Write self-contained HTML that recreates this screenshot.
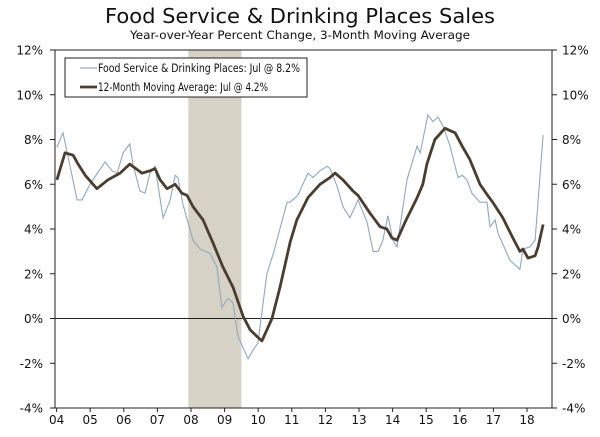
<!DOCTYPE html>
<html><head><meta charset="utf-8"><style>
body{margin:0;background:#fff;}
svg{display:block;font-family:"DejaVu Sans","Liberation Sans",sans-serif;}
</style></head><body>
<svg id="chart" width="600" height="437" viewBox="0 0 600 437">
<text x="105" y="23" textLength="390" lengthAdjust="spacingAndGlyphs" font-size="20" fill="#111">Food Service &amp; Drinking Places Sales</text>
<text x="130" y="39" textLength="340" lengthAdjust="spacingAndGlyphs" font-size="11.5" fill="#111">Year-over-Year Percent Change, 3-Month Moving Average</text>
<g id="plot"></g>
</svg>
<script>
const yTicks=[-4,-2,0,2,4,6,8,10,12];
const yearLabels=["04","05","06","07","08","09","10","11","12","13","14","15","16","17","18"];
const recession=[2007.92,2009.5];
const rawDates=[2004.01,2004.19,2004.61,2004.76,2004.99,2005.44,2005.65,2005.80,2005.98,2006.18,2006.27,2006.48,2006.63,2006.78,2006.93,2007.17,2007.38,2007.53,2007.61,2007.76,2008.06,2008.27,2008.57,2008.77,2008.92,2009.10,2009.25,2009.40,2009.70,2009.85,2009.99,2010.26,2010.45,2010.86,2010.95,2011.18,2011.48,2011.63,2011.84,2012.05,2012.14,2012.35,2012.52,2012.73,2012.88,2012.97,2013.24,2013.42,2013.57,2013.71,2013.86,2014.01,2014.13,2014.22,2014.43,2014.73,2014.82,2015.05,2015.20,2015.35,2015.50,2015.71,2015.86,2015.95,2016.07,2016.21,2016.36,2016.60,2016.81,2016.90,2017.05,2017.14,2017.26,2017.49,2017.79,2017.88,2018.09,2018.24,2018.48];
const rawValues=[7.66,8.3,5.3,5.3,6.0,7.0,6.6,6.5,7.4,7.8,6.9,5.7,5.6,6.5,6.8,4.5,5.3,6.4,6.3,5.1,3.5,3.1,2.9,2.3,0.5,0.9,0.7,-0.8,-1.8,-1.4,-1.1,2.0,2.9,5.2,5.2,5.5,6.5,6.3,6.6,6.8,6.7,5.9,5.0,4.5,5.0,5.3,4.3,3.0,3.0,3.5,4.6,3.5,3.2,4.1,6.2,7.7,7.4,9.1,8.8,9.0,8.6,7.7,6.8,6.3,6.4,6.2,5.6,5.2,5.2,4.1,4.4,3.8,3.4,2.6,2.2,3.1,3.2,3.5,8.2];
const maDates=[2004.01,2004.25,2004.49,2004.64,2004.85,2005.20,2005.53,2005.89,2006.18,2006.54,2006.78,2006.93,2007.08,2007.29,2007.53,2007.73,2007.88,2008.06,2008.36,2008.65,2008.95,2009.25,2009.55,2009.76,2009.96,2010.11,2010.41,2010.65,2010.95,2011.15,2011.48,2011.84,2012.14,2012.29,2012.52,2012.82,2012.97,2013.33,2013.63,2013.83,2013.98,2014.13,2014.37,2014.73,2014.90,2015.02,2015.26,2015.56,2015.86,2016.07,2016.30,2016.60,2016.83,2016.98,2017.28,2017.58,2017.79,2017.88,2018.03,2018.24,2018.33,2018.48];
const maValues=[6.2,7.4,7.3,6.9,6.4,5.8,6.2,6.5,6.9,6.5,6.6,6.7,6.2,5.8,6.0,5.6,5.5,5.0,4.4,3.4,2.3,1.4,0.1,-0.5,-0.8,-1.0,0.0,1.4,3.4,4.4,5.4,6.0,6.3,6.5,6.2,5.7,5.5,4.7,4.1,4.0,3.6,3.5,4.3,5.4,6.0,6.9,8.0,8.5,8.3,7.7,7.1,6.0,5.5,5.2,4.5,3.6,3.0,3.1,2.7,2.8,3.2,4.2];

const L=55,R=552,T=50,B=408;
const xs=t=>56.6+(t-2004)*33.6;
const ys=v=>B-(v+4)*(B-T)/16;
const NS="http://www.w3.org/2000/svg";
const g=document.getElementById('plot');
function mk(tag,a,parent){const e=document.createElementNS(NS,tag);for(const k in a)e.setAttribute(k,a[k]);(parent||g).appendChild(e);return e;}

const rec=mk('rect',{x:xs(recession[0]),y:T,width:xs(recession[1])-xs(recession[0]),height:B-T,fill:'#d6d2c6'});



const zl=mk('line',{x1:L,x2:R,y1:ys(0),y2:ys(0),stroke:'#222','stroke-width':1});



yTicks.forEach(v=>{
  const y=ys(v);
  const t1=mk('line',{x1:L-5,x2:L,y1:y,y2:y,stroke:'#222'});
  
  
  const t2=mk('line',{x1:R,x2:R+5,y1:y,y2:y,stroke:'#222'});
  
  
  const a=mk('text',{x:43,y:y+4.5,'text-anchor':'end','font-size':12,fill:'#111'});a.textContent=v+'%';
  
  
  const b=mk('text',{x:562,y:y+4.5,'font-size':12,fill:'#111'});b.textContent=v+'%';
  
  
});
yearLabels.forEach((s,i)=>{
  const x=xs(2004+i);
  const tk=mk('line',{x1:x,x2:x,y1:B,y2:B+4,stroke:'#222'});
  
  
  const t=mk('text',{x:x,y:424,'text-anchor':'middle','font-size':12,fill:'#111'});t.textContent=s;
  
  
});

function path(d,v){return d.map((t,i)=>(i?'L':'M')+xs(t).toFixed(1)+','+ys(v[i]).toFixed(1)).join('');}
const p1=mk('path',{d:path(rawDates,rawValues),fill:'none',stroke:'#8fa9bd','stroke-width':1.1});


const p2=mk('path',{d:path(maDates,maValues),fill:'none',stroke:'#4a3d30','stroke-width':2.8,'stroke-linejoin':'round'});



const frame=mk('rect',{x:L,y:T,width:R-L,height:B-T,fill:'none',stroke:'#222','stroke-width':1});



const lg=mk('g',{});


mk('rect',{x:65,y:58,width:242,height:39,fill:'#fff',stroke:'#222'},lg);
mk('line',{x1:80,x2:97,y1:68,y2:68,stroke:'#8fa9bd','stroke-width':1.2},lg);
mk('line',{x1:80,x2:97,y1:87,y2:87,stroke:'#4a3d30','stroke-width':2.8},lg);
const l1=mk('text',{x:98,y:72,'font-size':11.5,textLength:202,lengthAdjust:'spacingAndGlyphs',fill:'#111'},lg);l1.textContent='Food Service & Drinking Places: Jul @ 8.2%';


const l2=mk('text',{x:98,y:91,'font-size':11.5,textLength:170,lengthAdjust:'spacingAndGlyphs',fill:'#111'},lg);l2.textContent='12-Month Moving Average: Jul @ 4.2%';


</script>
</body></html>
